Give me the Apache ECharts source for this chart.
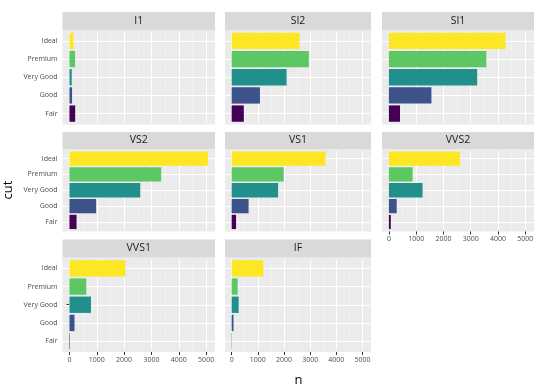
<!DOCTYPE html>
<html>
<head>
<meta charset="utf-8">
<script src="https://cdn.jsdelivr.net/npm/echarts@6/dist/echarts.min.js"></script>
<style>html,body{margin:0;padding:0;background:#fff;}#c{width:540px;height:386px;}</style>
</head>
<body>
<div id="c"></div>
<script>
const categories = ['Fair', 'Good', 'Very Good', 'Premium', 'Ideal'];
const clarities = ['I1', 'SI2', 'SI1', 'VS2', 'VS1', 'VVS2', 'VVS1', 'IF'];
const nI1   = [210, 96, 84, 205, 146];
const nSI2  = [466, 1081, 2100, 2949, 2598];
const nSI1  = [408, 1560, 3240, 3575, 4282];
const nVS2  = [261, 978, 2591, 3357, 5071];
const nVS1  = [170, 648, 1775, 1989, 3589];
const nVVS2 = [69, 286, 1235, 870, 2606];
const nVVS1 = [17, 186, 789, 616, 2047];
const nIF   = [9, 71, 268, 230, 1212];
const counts = [nI1, nSI2, nSI1, nVS2, nVS1, nVVS2, nVVS1, nIF];
const cutColors = ['#440154', '#3B528B', '#21908C', '#5DC863', '#FDE725'];
const xTicks = [0, 1000, 2000, 3000, 4000, 5000];
const xMinor = [500, 1500, 2500, 3500, 4500];
const xMin = -253.55, xMax = 5324.55;

const FONT = '"Open Sans", "DejaVu Sans", sans-serif';
const cols = [{l: 62.5, w: 152.5}, {l: 225, w: 146}, {l: 382, w: 152}];
const rows = [{st: 12, pt: 30, pb: 124.5}, {st: 132, pt: 149, pb: 231.5}, {st: 239.5, pt: 257.5, pb: 352}];

const grids = [], xAxes = [], yAxes = [], series = [], graphics = [];

clarities.forEach((cl, i) => {
  const r = Math.floor(i / 3), c = i % 3;
  const col = cols[c], row = rows[r];
  const band = (row.pb - row.pt) / 5.2;
  const innerTop = row.pt + 0.1 * band;
  const innerH = 5 * band;
  const showX = (i >= 5);
  const showY = (c === 0);

  graphics.push({type: 'rect', z: -10, silent: true,
    shape: {x: col.l, y: row.pt, width: col.w, height: row.pb - row.pt},
    style: {fill: '#EBEBEB'}});
  graphics.push({type: 'rect', z: -10, silent: true,
    shape: {x: col.l, y: row.st, width: col.w, height: row.pt - row.st},
    style: {fill: '#D9D9D9'}});
  graphics.push({type: 'text', z: 10, silent: true,
    x: col.l + col.w / 2, y: (row.st + row.pt) / 2,
    style: {text: cl, fontSize: 10.5, fontFamily: FONT, fill: '#1A1A1A', align: 'center', verticalAlign: 'middle'}});

  grids.push({left: col.l, top: innerTop, width: col.w, height: innerH, containLabel: false});
  xAxes.push({
    type: 'value', gridIndex: i, min: xMin, max: xMax,
    offset: (row.pb - (innerTop + innerH)),
    axisLine: {show: false},
    splitLine: {show: false},
    axisTick: {show: showX, length: 3, lineStyle: {color: '#333333', width: 1}, customValues: xTicks},
    axisLabel: {show: showX, fontSize: 7, color: '#4D4D4D', fontFamily: FONT, margin: 4, customValues: xTicks,
      formatter: v => String(Math.round(v))}
  });
  yAxes.push({
    type: 'category', gridIndex: i, data: categories,
    axisLine: {show: false},
    splitLine: {show: false},
    axisTick: {show: showY, alignWithLabel: true, length: 3, lineStyle: {color: '#333333', width: 1}},
    axisLabel: {show: showY, fontSize: 7, color: '#4D4D4D', fontFamily: FONT, margin: 5}
  });

  const mlData = [];
  xMinor.forEach(v => mlData.push({xAxis: v, lineStyle: {color: 'rgba(255,255,255,0.55)', width: 0.6, type: 'solid'}}));
  xTicks.forEach(v => mlData.push({xAxis: v, lineStyle: {color: '#FFFFFF', width: 1.1, type: 'solid'}}));
  categories.forEach(v => mlData.push({yAxis: v, lineStyle: {color: '#FFFFFF', width: 1.1, type: 'solid'}}));
  series.push({
    type: 'line', xAxisIndex: i, yAxisIndex: i, data: [], silent: true, z: 1,
    markLine: {silent: true, symbol: ['none', 'none'], label: {show: false}, z: 1, animation: false, data: mlData}
  });
  series.push({
    type: 'bar', name: cl, xAxisIndex: i, yAxisIndex: i, z: 3,
    barWidth: '90%',
    data: counts[i].map((v, k) => ({value: v, itemStyle: {color: cutColors[k]}})),
    itemStyle: {borderWidth: 0}
  });
});

graphics.push({type: 'text', silent: true, x: 298.5, y: 380,
  style: {text: 'n', fontSize: 13, fontFamily: FONT, fill: '#000', align: 'center', verticalAlign: 'middle'}});
graphics.push({type: 'text', silent: true, x: 8, y: 190, rotation: Math.PI / 2,
  style: {text: 'cut', fontSize: 13, fontFamily: FONT, fill: '#000', align: 'center', verticalAlign: 'middle'}});

const chart = echarts.init(document.getElementById('c'), null, {renderer: 'canvas'});
chart.setOption({
  animation: false,
  grid: grids,
  xAxis: xAxes,
  yAxis: yAxes,
  series: series,
  graphic: graphics
});
</script>
</body>
</html>
